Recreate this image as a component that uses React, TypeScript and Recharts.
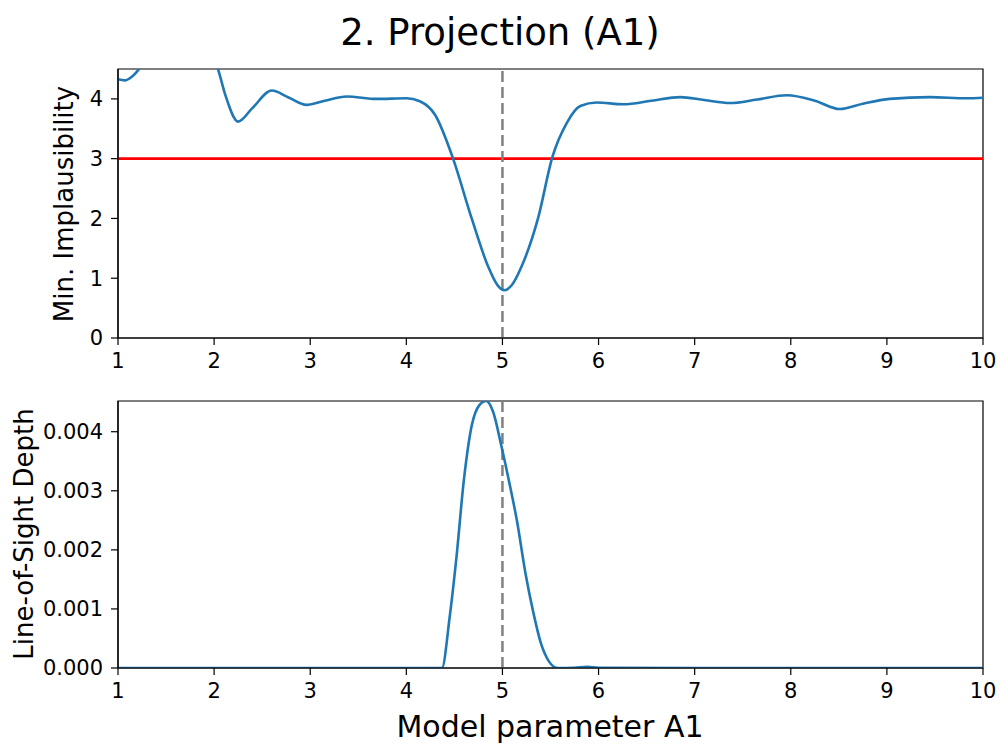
import React from 'react';
import {
  LineChart,
  Line,
  XAxis,
  YAxis,
  ReferenceLine,
  ReferenceArea
} from 'recharts';

// top panel: minimum implausibility along A1
const implA1 = [
  1.0, 1.07, 1.15, 1.23, 1.4, 1.6, 1.8, 1.95, 2.04, 2.12, 2.25, 2.4, 2.6, 2.78,
  2.96, 3.15, 3.38, 3.69, 4.0, 4.14, 4.3, 4.48, 4.68, 4.85, 4.95, 5.02, 5.1,
  5.2, 5.37, 5.52, 5.67, 5.81, 5.98, 6.26, 6.55, 6.85, 7.1, 7.37, 7.65, 7.96,
  8.25, 8.51, 8.75, 9.03, 9.45, 9.83, 10.0
];
const minImpl = [
  4.33, 4.31, 4.38, 4.52, 5.0, 5.3, 5.2, 4.85, 4.5, 4.05, 3.62, 3.85, 4.14, 4.02,
  3.9, 3.97, 4.04, 4.0, 4.01, 3.96, 3.73, 3.03, 2.0, 1.2, 0.88, 0.8, 0.89,
  1.2, 2.0, 3.03, 3.6, 3.88, 3.94, 3.91, 3.97, 4.03, 3.98, 3.93, 3.99, 4.06,
  3.97, 3.83, 3.92, 4.0, 4.03, 4.01, 4.02
];

// bottom panel: line-of-sight depth
const depthA1 = [
  1, 2, 3, 4, 4.37, 4.45, 4.52, 4.6, 4.68, 4.76, 4.83, 4.9, 4.99, 5.07, 5.15,
  5.24, 5.32, 5.4, 5.48, 5.57, 5.75, 5.88, 6.0, 7, 8, 9, 10
];
const losDepth = [
  0, 0, 0, 0, 0, 0.00085, 0.00185, 0.0032, 0.0041, 0.00445, 0.00452, 0.00435,
  0.00375, 0.00315, 0.0025, 0.0016, 0.00095, 0.00042, 0.00012, 0, 0.000005,
  0.00002, 0.000005, 0, 0, 0, 0
];

const xTicks = [1, 2, 3, 4, 5, 6, 7, 8, 9, 10];
const implTicks = [0, 1, 2, 3, 4];
const depthTicks = [0, 0.001, 0.002, 0.003, 0.004];
const cutoff = 3;
const bestA1 = 5;

const topData = implA1.map((a, i) => ({ a1: a, value: minImpl[i] }));
const bottomData = depthA1.map((a, i) => ({ a1: a, value: losDepth[i] }));

const font = '"DejaVu Sans", sans-serif';
const tickStyle = { fontSize: 21, fill: '#000', fontFamily: font };
const blue = '#1f77b4';
const axisStroke = { stroke: '#000', strokeWidth: 1.2 };

export default function App() {
  return (
    <div style={{ position: 'relative', width: 1000, height: 750, background: '#fff' }}>
      <style>{'body{margin:0}'}</style>

      <div style={{ position: 'absolute', left: 0, top: 0 }}>
        <LineChart width={1000} height={380} data={topData}
          margin={{ top: 69, right: 17, bottom: 0, left: 0 }}>
          <XAxis dataKey="a1" type="number" domain={[1, 10]} ticks={xTicks}
            allowDataOverflow height={42} tick={tickStyle}
            tickSize={7} tickMargin={8}
            axisLine={axisStroke} tickLine={axisStroke} />
          <YAxis type="number" domain={[0, 4.5]} ticks={implTicks}
            allowDataOverflow width={118} tick={tickStyle}
            tickSize={7} tickMargin={8}
            axisLine={axisStroke} tickLine={axisStroke} />
          <ReferenceArea x1={1} x2={10} y1={0} y2={4.5}
            fill="none" stroke="#000" strokeWidth={1.2} />
          <ReferenceLine y={cutoff} stroke="#ff0000" strokeWidth={2.8} />
          <ReferenceLine x={bestA1} stroke="#808080" strokeWidth={2.5}
            strokeDasharray="11 5" />
          <Line type="monotone" dataKey="value" stroke={blue} strokeWidth={2.6}
            dot={false} isAnimationActive={false} />
        </LineChart>
      </div>

      <div style={{ position: 'absolute', left: 0, top: 380 }}>
        <LineChart width={1000} height={370} data={bottomData}
          margin={{ top: 21, right: 17, bottom: 0, left: 0 }}>
          <XAxis dataKey="a1" type="number" domain={[1, 10]} ticks={xTicks}
            allowDataOverflow height={82} tick={tickStyle}
            tickSize={7} tickMargin={8}
            axisLine={axisStroke} tickLine={axisStroke} />
          <YAxis type="number" domain={[0, 0.00452]} ticks={depthTicks}
            allowDataOverflow width={118} tick={tickStyle}
            tickFormatter={(v: number) => v.toFixed(3)}
            tickSize={7} tickMargin={8}
            axisLine={axisStroke} tickLine={axisStroke} />
          <ReferenceArea x1={1} x2={10} y1={0} y2={0.00452}
            fill="none" stroke="#000" strokeWidth={1.2} />
          <ReferenceLine x={bestA1} stroke="#808080" strokeWidth={2.5}
            strokeDasharray="11 5" />
          <Line type="monotone" dataKey="value" stroke={blue} strokeWidth={2.6}
            dot={false} isAnimationActive={false} />
        </LineChart>
      </div>

      {/* titles */}
      <svg width={1000} height={750}
        style={{ position: 'absolute', left: 0, top: 0, pointerEvents: 'none' }}>
        <text x={500} y={45} textAnchor="middle" fontSize={37} fontFamily={font} fill="#000">
          2. Projection (A1)
        </text>
        <text x={550} y={737} textAnchor="middle" fontSize={30} fontFamily={font} fill="#000">
          Model parameter A1
        </text>
        <text x={73} y={204} textAnchor="middle" fontSize={26} fontFamily={font} fill="#000"
          transform="rotate(-90, 73, 204)">
          Min. Implausibility
        </text>
        <text x={33} y={534} textAnchor="middle" fontSize={26} fontFamily={font} fill="#000"
          transform="rotate(-90, 33, 534)">
          Line-of-Sight Depth
        </text>
      </svg>
    </div>
  );
}
